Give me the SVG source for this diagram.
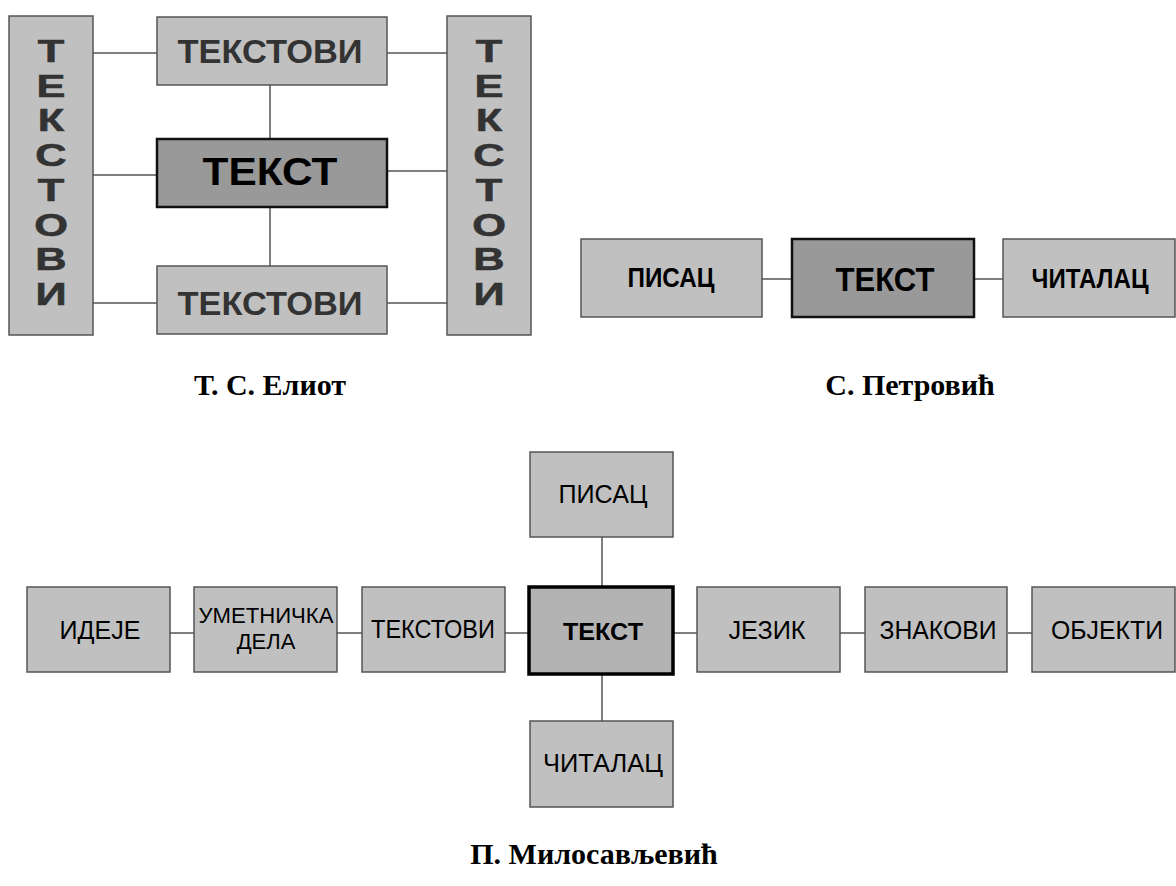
<svg xmlns="http://www.w3.org/2000/svg" width="1176" height="886" viewBox="0 0 1176 886">
<style>
.box{fill:#c0c0c0;stroke:#555;stroke-width:1.5}
.e-main{fill:#999;stroke:#111;stroke-width:2.5}
.p-main{fill:#999;stroke:#111;stroke-width:2.5}
.m-main{fill:#b3b3b3;stroke:#000;stroke-width:3.5}
.ln{stroke:#555;stroke-width:1.5;fill:none}
text{font-family:"Liberation Sans",Arial,sans-serif;text-anchor:middle}
.eb{font-weight:bold;font-size:33px;fill:#333}
.ev{font-weight:bold;font-size:31px;fill:#333;stroke:#333;stroke-width:0.6}
.ec{font-weight:bold;font-size:39px;fill:#000}
.pb{font-weight:bold;font-size:27px;fill:#000}
.pc{font-weight:bold;font-size:33px;fill:#000}
.mr{font-size:25px;fill:#000}
.ms{font-size:22px;fill:#000}
.mb{font-weight:bold;font-size:24px;fill:#000}
.cap{font-family:"Liberation Serif","Times New Roman",serif;font-weight:bold;font-size:30px;fill:#000}
</style>
<rect width="1176" height="886" fill="#fff"/>
<g id="connectors">
<line class="ln" x1="93" y1="53" x2="157" y2="53"/>
<line class="ln" x1="387" y1="53" x2="447" y2="53"/>
<line class="ln" x1="93" y1="175" x2="157" y2="175"/>
<line class="ln" x1="387" y1="171" x2="447" y2="171"/>
<line class="ln" x1="93" y1="303" x2="157" y2="303"/>
<line class="ln" x1="387" y1="303" x2="447" y2="303"/>
<line class="ln" x1="270" y1="85" x2="270" y2="139"/>
<line class="ln" x1="270" y1="207" x2="270" y2="266"/>
<line class="ln" x1="762" y1="279" x2="792" y2="279"/>
<line class="ln" x1="974" y1="279" x2="1003" y2="279"/>
<line class="ln" x1="170" y1="633" x2="194" y2="633"/>
<line class="ln" x1="337" y1="633" x2="362" y2="633"/>
<line class="ln" x1="505" y1="633" x2="529" y2="633"/>
<line class="ln" x1="673" y1="633" x2="697" y2="633"/>
<line class="ln" x1="840" y1="633" x2="865" y2="633"/>
<line class="ln" x1="1008" y1="633" x2="1032" y2="633"/>
<line class="ln" x1="602" y1="537" x2="602" y2="587"/>
<line class="ln" x1="602" y1="674" x2="602" y2="721"/>
</g>
<g id="eliot-left">
<rect class="box" x="9" y="16" width="84" height="319"/>
<g transform="translate(51 0) scale(1.4 1)">
<text class="ev" x="0" y="62">Т</text><text class="ev" x="0" y="97">Е</text><text class="ev" x="0" y="131">К</text><text class="ev" x="0" y="166">С</text><text class="ev" x="0" y="201">Т</text><text class="ev" x="0" y="236">О</text><text class="ev" x="0" y="270">В</text><text class="ev" x="0" y="305">И</text>
</g>
</g>
<g id="eliot-right">
<rect class="box" x="447" y="16" width="84" height="319"/>
<g transform="translate(489 0) scale(1.4 1)">
<text class="ev" x="0" y="62">Т</text><text class="ev" x="0" y="97">Е</text><text class="ev" x="0" y="131">К</text><text class="ev" x="0" y="166">С</text><text class="ev" x="0" y="201">Т</text><text class="ev" x="0" y="236">О</text><text class="ev" x="0" y="270">В</text><text class="ev" x="0" y="305">И</text>
</g>
</g>
<g id="eliot-top">
<rect class="box" x="157" y="17" width="230" height="68"/>
<text class="eb" x="270" y="63" textLength="185" lengthAdjust="spacingAndGlyphs">ТЕКСТОВИ</text>
</g>
<g id="eliot-center">
<rect class="e-main" x="157" y="139" width="230" height="68"/>
<text class="ec" x="270" y="185" textLength="135" lengthAdjust="spacingAndGlyphs">ТЕКСТ</text>
</g>
<g id="eliot-bottom">
<rect class="box" x="157" y="266" width="230" height="68"/>
<text class="eb" x="270" y="315" textLength="185" lengthAdjust="spacingAndGlyphs">ТЕКСТОВИ</text>
</g>
<g id="eliot-caption"><text class="cap" x="270" y="395">Т. С. Елиот</text></g>
<g id="petrovic-pisac">
<rect class="box" x="581" y="239" width="181" height="78"/>
<text class="pb" x="671" y="287" textLength="87" lengthAdjust="spacingAndGlyphs">ПИСАЦ</text>
</g>
<g id="petrovic-tekst">
<rect class="p-main" x="792" y="239" width="182" height="78"/>
<text class="pc" x="885" y="291" textLength="99" lengthAdjust="spacingAndGlyphs">ТЕКСТ</text>
</g>
<g id="petrovic-citalac">
<rect class="box" x="1003" y="239" width="172" height="78"/>
<text class="pb" x="1090" y="288" textLength="117" lengthAdjust="spacingAndGlyphs">ЧИТАЛАЦ</text>
</g>
<g id="petrovic-caption"><text class="cap" x="910" y="395">С. Петровић</text></g>
<g id="m-ideje">
<rect class="box" x="27" y="587" width="143" height="85"/>
<text class="mr" x="100" y="639" textLength="81" lengthAdjust="spacingAndGlyphs">ИДЕЈЕ</text>
</g>
<g id="m-umetnicka">
<rect class="box" x="194" y="587" width="143" height="85"/>
<text class="ms" x="266" y="623" textLength="135" lengthAdjust="spacingAndGlyphs">УМЕТНИЧКА</text>
<text class="ms" x="266" y="649">ДЕЛА</text>
</g>
<g id="m-tekstovi">
<rect class="box" x="362" y="587" width="143" height="85"/>
<text class="mr" x="433" y="638" textLength="124" lengthAdjust="spacingAndGlyphs">ТЕКСТОВИ</text>
</g>
<g id="m-tekst">
<rect class="m-main" x="529" y="587" width="144" height="87"/>
<text class="mb" x="603" y="640" textLength="80" lengthAdjust="spacingAndGlyphs">ТЕКСТ</text>
</g>
<g id="m-pisac">
<rect class="box" x="530" y="452" width="143" height="85"/>
<text class="mr" x="603" y="503" textLength="89" lengthAdjust="spacingAndGlyphs">ПИСАЦ</text>
</g>
<g id="m-citalac">
<rect class="box" x="530" y="721" width="143" height="86"/>
<text class="mr" x="603" y="772" textLength="120" lengthAdjust="spacingAndGlyphs">ЧИТАЛАЦ</text>
</g>
<g id="m-jezik">
<rect class="box" x="697" y="587" width="143" height="85"/>
<text class="mr" x="767" y="639" textLength="77" lengthAdjust="spacingAndGlyphs">ЈЕЗИК</text>
</g>
<g id="m-znakovi">
<rect class="box" x="865" y="587" width="142" height="85"/>
<text class="mr" x="938" y="639" textLength="117" lengthAdjust="spacingAndGlyphs">ЗНАКОВИ</text>
</g>
<g id="m-objekti">
<rect class="box" x="1032" y="587" width="143" height="85"/>
<text class="mr" x="1107" y="639" textLength="112" lengthAdjust="spacingAndGlyphs">ОБЈЕКТИ</text>
</g>
<g id="m-caption"><text class="cap" x="594" y="864">П. Милосављевић</text></g>
</svg>
